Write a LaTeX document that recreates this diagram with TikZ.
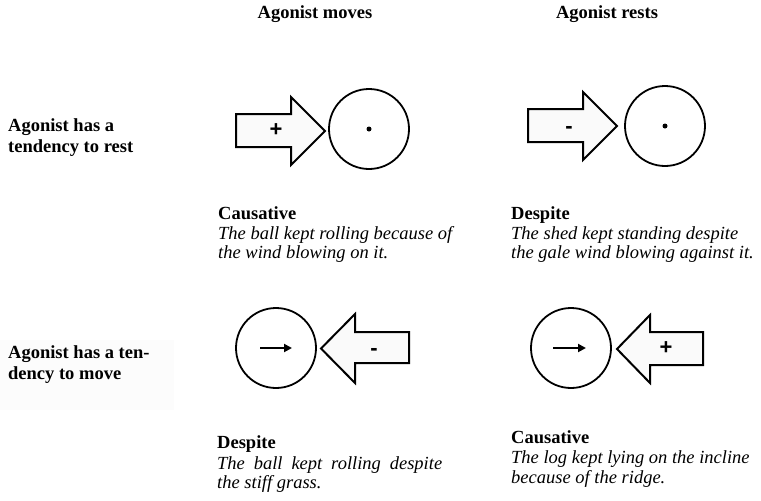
\documentclass[tikz,border=0pt]{standalone}
\usepackage{fontspec}
\setmainfont{Liberation Serif}
\newfontfamily\symfont{Liberation Sans}
\usetikzlibrary{arrows.meta}
\definecolor{arrowfill}{HTML}{FAFAFA}
\definecolor{labelbg}{HTML}{FCFCFC}
\tikzset{
  txt/.style={anchor=base west, inner sep=0pt, font=\fontsize{18.5}{21}\selectfont},
  hd/.style={txt, font=\fontsize{18.5}{21}\selectfont\bfseries},
  ex/.style={txt, font=\fontsize{18.5}{21}\selectfont\itshape},
  col/.style={anchor=base, inner sep=0pt, font=\fontsize{18.5}{21}\selectfont\bfseries},
  bigarrow/.style={draw=black, line width=2pt, fill=arrowfill, line join=miter},
  ball/.style={circle, draw=black, line width=1.8pt, minimum size=80pt, inner sep=0pt},
  sym/.style={inner sep=0pt, font=\fontsize{22}{22}\selectfont\symfont\bfseries},
  dotmark/.style={circle, fill=black, minimum size=5pt, inner sep=0pt},
  motion/.style={line width=2pt, -{Triangle[length=8pt,width=8pt]}}
}
\begin{document}
\begin{tikzpicture}[x=1pt,y=-1pt]
\useasboundingbox (0,0) rectangle (761,501);
% column headings
\node[col] (hmove) at (315,18) {Agonist moves};
\node[col] (hrest) at (607,18) {Agonist rests};
% row labels
\fill[labelbg] (0,340) rectangle (174,410);
\node[hd] (r1a) at (8,131) {Agonist has a};
\node[hd] (r1b) at (8,152) {tendency to rest};
\node[hd] (r2a) at (8,358) {Agonist has a ten-};
\node[hd] (r2b) at (8,379) {dency to move};

% top-left
\draw[bigarrow] (236,114) -- (291,114) -- (291,97) -- (325,131) -- (291,165) -- (291,147) -- (236,147) -- cycle;
\node[sym] (tlsym) at (276,130) {+};
\node[ball] (tlball) at (369,129) {};
\node[dotmark] (tldot) at (tlball.center) {};

% top-right
\draw[bigarrow] (528,109) -- (583,109) -- (583,92) -- (617,126) -- (583,160) -- (583,142) -- (528,142) -- cycle;
\node[sym] (trsym) at (569,129.5) {-};
\node[ball] (trball) at (665,126) {};
\node[dotmark] (trdot) at (trball.center) {};

% bottom-left
\node[ball] (blball) at (276,348) {};
\coordinate (bls) at (260,348);
\coordinate (ble) at (292,348);
\draw[motion] (bls) -- (ble);
\draw[bigarrow] (409,332) -- (355,332) -- (355,314) -- (321,348.5) -- (355,383) -- (355,363) -- (409,363) -- cycle;
\node[sym] (blsym) at (374,351.5) {-};

% bottom-right
\node[ball] (brball) at (571,348) {};
\coordinate (brs) at (553,348);
\coordinate (bre) at (586,348);
\draw[motion] (brs) -- (bre);
\draw[bigarrow] (703,332) -- (650,332) -- (650,315) -- (617,349) -- (650,383) -- (650,365) -- (703,365) -- cycle;
\node[sym] (brsym) at (666,348) {+};

% captions
\node[hd] (tlh) at (218,219) {Causative};
\node[ex] (tl1) at (218,239) {The ball kept rolling because of};
\node[ex] (tl2) at (218,258) {the wind blowing on it.};

\node[hd] (trh) at (511,219) {Despite};
\node[ex] (tr1) at (511,239) {The shed kept standing despite};
\node[ex] (tr2) at (511,258) {the gale wind blowing against it.};

\node[hd] (blh) at (217,448) {Despite};
\node[ex] (bl1) at (217,469) {\makebox[225pt][s]{The ball kept rolling despite}};
\node[ex] (bl2) at (217,488) {the stiff grass.};

\node[hd] (brh) at (511,443) {Causative};
\node[ex] (br1) at (511,463) {The log kept lying on the incline};
\node[ex] (br2) at (511,483) {because of the ridge.};
\end{tikzpicture}
\end{document}
